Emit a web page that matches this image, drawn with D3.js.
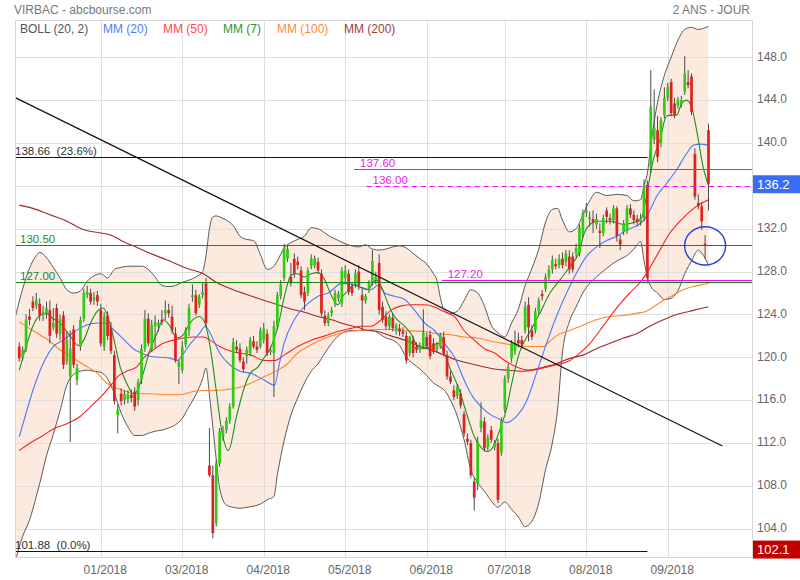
<!DOCTYPE html>
<html><head><meta charset="utf-8">
<script src="https://cdn.jsdelivr.net/npm/d3@7/dist/d3.min.js"></script>
<style>body{margin:0;background:#fff}svg{display:block;font-family:Arial,"Liberation Sans",sans-serif}</style>
</head><body><svg id="c" width="800" height="580"></svg>
<script>
// ---------- DATA ----------
const openP = [121.0,120.0,120.8,123.8,125.2,124.8,125.0,123.9,124.1,124.4,
122.8,124.6,122.2,123.9,119.6,118.2,122.6,117.9,121.0,123.6,
125.8,126.0,125.3,125.8,124.4,121.0,123.9,122.8,120.2,114.6,
116.6,116.0,116.1,116.5,116.8,116.0,117.9,120.8,123.6,120.8,
122.9,122.9,123.5,124.1,124.4,123.8,122.2,119.1,118.8,121.2,
122.5,125.6,125.8,124.9,125.8,126.9,109.9,109.0,104.5,110.1,
112.6,113.2,114.1,115.4,121.0,120.8,119.6,120.1,120.4,121.5,
121.0,121.0,121.6,122.2,120.5,120.4,122.9,125.7,127.4,129.2,
127.5,129.2,128.9,128.1,126.1,126.0,128.5,128.6,128.9,127.8,
123.9,123.2,124.1,125.0,125.5,125.0,127.4,127.8,126.6,126.9,
128.0,125.8,125.3,126.3,127.0,127.2,128.8,124.7,123.8,122.9,
123.7,122.5,122.7,122.4,122.0,120.4,121.6,121.0,120.7,121.0,
121.9,122.1,121.3,120.7,121.0,121.9,120.2,118.2,116.9,116.4,
116.6,114.7,112.4,112.0,108.4,108.2,113.4,114.0,111.6,113.2,
111.6,112.0,111.1,115.1,118.0,119.9,120.6,121.6,121.6,122.5,
124.9,122.5,122.5,124.3,125.9,126.4,127.5,128.2,128.7,128.6,
129.2,128.9,129.4,129.4,129.7,129.7,131.5,133.5,132.9,132.9,
132.4,131.8,131.6,133.7,133.0,132.8,133.9,131.0,131.7,131.8,
133.9,133.3,132.9,132.6,133.0,136.1,137.8,140.3,141.2,140.0,
142.6,144.2,145.7,143.7,143.5,143.6,144.8,145.7,146.2,139.0,
134.4,134.1,130.6,141.2];
const highP = [121.4,121.0,124.0,124.5,125.7,126.0,125.5,124.8,125.2,125.3,
124.6,125.0,124.0,124.3,122.4,122.5,123.0,119.4,123.8,126.4,
126.7,126.4,126.1,126.2,125.0,124.2,124.3,123.3,120.6,115.6,
117.1,116.9,116.9,117.0,117.2,118.0,121.2,124.4,124.1,123.5,
123.9,123.5,124.4,125.3,125.0,124.8,122.8,119.8,121.5,122.8,
125.0,126.8,126.3,125.9,127.0,127.4,113.4,109.9,110.4,113.4,
113.6,114.4,115.7,121.8,121.6,121.3,120.0,121.0,121.9,122.0,
121.5,122.8,123.2,122.6,121.0,123.4,126.1,127.2,130.6,130.5,
128.8,129.7,129.4,128.5,126.6,128.4,129.6,129.5,129.3,128.2,
124.4,124.2,124.7,126.3,126.2,128.4,128.6,128.2,127.0,128.2,
128.6,126.4,125.9,127.2,130.0,128.0,129.6,125.2,124.3,124.0,
124.1,123.2,123.1,122.8,122.4,122.0,122.0,121.4,121.4,124.5,
122.3,122.5,121.8,121.4,122.3,122.4,120.6,118.7,117.4,117.5,
117.0,115.0,112.9,112.3,108.8,112.6,115.8,114.4,112.8,113.6,
112.3,112.4,114.4,118.3,119.4,121.6,122.5,122.3,122.0,125.2,
125.6,123.0,124.6,125.6,126.3,127.8,128.6,129.5,129.2,129.6,
129.8,130.0,130.0,129.8,130.6,132.4,133.8,134.4,133.6,133.7,
133.4,132.5,133.3,134.0,133.4,134.2,134.1,131.4,132.8,134.2,
134.3,133.7,133.3,133.4,136.6,136.5,146.8,145.0,142.5,142.4,
145.2,145.6,146.0,144.2,144.3,144.4,148.1,146.8,146.5,139.5,
135.2,134.5,131.4,141.8];
const lowP = [119.6,119.7,120.5,123.0,124.3,124.5,123.4,123.4,123.6,121.3,
122.5,121.8,121.6,118.9,119.3,112.1,119.0,117.4,120.6,123.3,
125.5,124.9,124.9,124.8,121.0,120.6,121.6,120.3,115.6,112.9,
115.5,115.6,115.7,115.8,115.0,115.5,117.5,120.5,121.0,120.5,
120.9,122.4,123.0,123.5,123.7,122.2,119.5,117.5,118.5,120.9,
122.0,125.2,123.9,124.6,125.5,122.8,108.8,103.1,104.2,109.8,
112.2,112.9,113.8,115.2,120.4,119.5,118.6,119.4,120.1,120.8,
120.4,120.8,121.3,120.1,120.2,116.3,122.6,125.4,127.1,128.9,
126.6,127.4,128.2,125.5,124.4,125.7,128.2,128.3,127.8,123.8,
122.9,122.9,123.8,124.7,125.2,124.7,127.0,125.8,125.7,126.5,
126.3,122.5,125.0,126.0,126.7,126.8,124.0,123.2,122.6,122.6,
122.4,122.1,122.0,121.9,119.4,120.1,120.0,120.4,120.4,120.8,
120.8,119.8,120.3,120.4,120.8,120.1,117.9,117.5,116.0,116.1,
115.2,112.6,111.8,108.7,105.7,107.6,113.0,111.2,111.3,112.0,
111.3,106.4,110.8,114.8,117.6,119.5,120.2,120.9,120.8,122.2,
121.5,121.6,122.2,124.0,125.3,126.1,127.2,127.8,128.2,128.3,
128.3,128.5,127.8,127.9,129.3,129.4,131.2,133.1,132.2,131.6,
132.0,130.2,131.3,132.5,132.4,132.5,130.8,130.0,131.4,131.5,
133.0,132.4,132.2,132.3,132.7,126.9,137.2,139.9,138.2,139.6,
142.3,143.9,142.5,142.3,143.2,143.3,144.5,145.1,142.6,134.7,
133.8,131.9,129.2,133.7];
const closeP = [119.9,120.7,123.5,123.5,124.6,125.4,123.9,124.2,124.6,122.0,
123.2,122.2,123.6,119.3,121.6,120.8,119.3,119.0,123.5,126.0,
126.1,125.2,125.6,125.2,121.3,123.8,122.0,120.6,115.9,115.1,
115.9,116.6,116.5,116.2,115.4,117.7,120.8,123.6,121.3,123.0,
123.3,123.2,123.3,124.4,124.1,122.5,119.7,119.6,121.0,122.5,
124.6,125.8,124.1,125.7,126.1,123.2,109.0,103.6,110.1,113.1,
113.2,114.1,115.4,121.4,120.7,119.7,118.9,120.7,121.6,121.0,
120.7,122.5,122.7,120.4,120.7,122.9,125.8,126.8,130.2,130.1,
126.9,127.8,128.6,125.8,125.2,128.1,129.2,129.2,128.1,124.1,
123.2,123.9,124.4,126.0,125.9,128.1,128.1,126.1,126.0,127.8,
126.7,125.3,125.7,126.9,129.0,127.5,124.4,123.5,122.9,123.8,
122.7,123.0,122.4,122.2,119.7,121.9,120.4,120.7,121.0,122.3,
121.0,120.1,120.5,121.2,122.1,120.4,118.2,117.7,116.3,117.2,
115.5,112.9,112.1,109.0,106.9,112.1,114.1,111.5,112.5,112.3,
112.0,106.7,114.1,118.0,119.1,121.3,121.4,121.3,121.2,124.7,
122.8,121.9,124.3,125.3,125.7,127.5,128.2,129.1,128.5,129.2,
128.6,129.7,128.2,128.2,130.2,132.1,133.5,133.7,133.1,132.6,
132.9,131.6,133.0,133.1,132.8,133.9,131.3,130.5,132.5,133.9,
133.3,132.8,132.6,133.0,136.1,127.4,143.4,141.4,138.7,142.1,
144.2,145.2,142.8,142.6,144.0,144.0,146.5,145.4,142.9,135.0,
134.1,132.7,130.4,136.2];

// Bollinger (20,2): index, upper, lower
const bbIdx = [-1.3,1,3,5,6,8,10,12,14,16,18,20,22,24,26,28,30,32,34,36,38,40,42,44,46,48,50,52,54,55,56,57,58,59,61,63,65,67,69,71,73,75,76,78,80,82,84,86,88,90,92,94,96,98,100,102,104,106,108,110,112,114,116,118,120,122,123,124,125,127,129,131,133,135,137,139,141,143,145,147,149,151,153,155,157,158.5,160,162,164,166,168,170,173,176,179,181,183,184,185,186,188,190,192,194,196,198,200,201.5,203];
const bbUp = [123.6,126.4,128.3,129.5,129.8,129.3,128.4,127.4,126.3,126.0,126.2,127.1,127.6,127.8,127.4,128.2,128.4,128.5,128.5,128.5,128.2,127.5,126.7,126.6,126.7,127.0,127.2,127.5,128.0,129.5,132.0,133.1,133.2,133.1,132.8,132.3,131.3,131.0,130.9,129.6,128.2,128.5,129.0,130.2,130.7,131.0,131.3,132.1,132.0,131.6,131.2,130.9,130.6,130.4,130.3,130.5,130.1,130.0,130.1,130.3,130.4,130.2,129.7,129.2,128.7,127.8,127.2,125.6,124.5,124.1,124.3,125.3,126.3,126.0,124.8,123.0,122.3,121.9,123.2,124.5,126.7,128.3,130.1,132.6,133.8,133.9,132.8,131.7,132.0,133.3,134.6,135.4,135.1,135.2,135.1,134.6,134.7,136.0,137.2,139.8,143.8,146.3,148.0,149.6,150.6,150.8,150.6,150.7,150.9];
const bbLow = [100.8,103.3,104.8,107.0,108.2,110.8,112.8,115.0,117.4,118.4,118.7,118.8,118.7,118.6,118.0,116.6,114.8,113.5,112.7,112.7,112.9,113.1,113.2,113.4,113.7,114.3,115.4,116.5,118.0,119.0,116.5,113.5,110.5,107.8,106.2,106.0,105.9,106.0,106.1,106.3,106.7,107.0,109.0,112.2,114.6,116.2,117.6,118.7,119.4,120.4,121.3,122.0,122.4,122.5,122.5,122.5,122.5,122.2,121.8,121.6,121.1,120.0,119.4,118.9,118.3,117.6,117.4,117.2,117.0,116.0,114.5,112.3,109.5,108.3,107.5,106.6,106.0,106.5,105.8,105.1,104.2,104.7,106.4,109.5,112.0,115.0,120.5,123.3,124.7,126.0,126.9,127.5,128.3,129.0,129.5,130.1,130.8,129.0,127.5,126.6,126.0,125.4,125.5,126.2,127.8,129.0,130.0,129.5,128.6];

// Moving averages: [index, value]
const mm20 = [[0,112.6],[2,114.8],[4,116.9],[7,119.4],[10,121.0],[13,121.6],[15.4,122.2],[19,122.9],[23,123.2],[25,123.2],[28,122.5],[31,121.6],[34,120.7],[36,120.4],[38.5,120.1],[41.5,120.0],[44.5,119.9],[46.5,119.7],[48,120.2],[50.5,121.3],[53,122.2],[54.8,122.9],[56.3,122.2],[59,120.4],[62,119.3],[65,118.7],[68.3,118.5],[72,117.9],[75.2,117.4],[76.6,119.4],[78,121.3],[81,123.5],[85,125.0],[88,125.7],[91,126.0],[95,126.9],[98,126.8],[101,126.5],[103.6,126.3],[105.6,126.7],[107.6,126.0],[110.5,125.7],[113.5,125.4],[116.4,124.4],[119.4,123.2],[122.3,122.5],[125.2,121.3],[128.2,120.0],[131,117.9],[133,116.6],[136,115.4],[139,114.6],[141,114.3],[143.5,113.9],[146.5,114.5],[149.4,115.9],[152.3,118.5],[155.3,121.3],[158.2,123.8],[161.2,126.0],[164,127.8],[167,129.4],[170,130.3],[173,130.9],[176,131.3],[179,131.9],[182,132.3],[184,132.8],[185.7,133.7],[187.7,135.0],[190.6,136.2],[193.6,137.5],[196.5,139.0],[198.5,139.8],[200.5,139.9],[203,139.8]];
const mm50 = [[0,111.3],[3.2,112.0],[7,112.7],[10,113.3],[14,113.8],[18,114.5],[21,115.4],[24,116.3],[27,117.4],[29,118.2],[31.6,118.7],[34.6,119.1],[36.5,119.9],[39.5,120.7],[42.4,121.3],[45.4,121.6],[48.3,121.8],[51.3,121.9],[54.2,121.9],[56.2,121.6],[59,121.0],[63,120.5],[65,120.4],[68.3,120.2],[72.2,119.7],[75.2,119.7],[78,120.2],[82,121.0],[86,121.6],[90,122.0],[93.8,122.4],[97.8,122.7],[100.7,122.9],[103.6,122.9],[106.6,123.5],[109.5,124.4],[112.5,124.8],[115.4,124.9],[119.4,124.9],[122.3,124.7],[124.3,124.4],[126.2,124.1],[128.2,123.8],[131,122.5],[134,121.6],[137,120.8],[140,120.4],[142.5,119.8],[146.5,119.1],[150.4,118.8],[154.3,119.0],[158.2,119.3],[162.2,119.7],[165.1,120.4],[168.1,121.3],[171,122.5],[174,123.8],[177,125.0],[179.8,126.0],[182,126.7],[184.3,127.6],[185.8,128.4],[188.7,130.0],[191,131.3],[194.6,132.7],[197.5,133.6],[200.5,134.3],[203,134.7]];
const mm7 = [[0,118.8],[2,121.0],[4,122.9],[6,123.9],[8,124.1],[10,123.6],[12,123.2],[14,122.4],[15.4,121.8],[17.4,121.1],[19,121.6],[21,123.2],[23,124.3],[24.7,124.6],[25.7,124.1],[27.7,121.9],[29.7,119.1],[31.6,117.6],[33.6,116.6],[34.6,116.8],[36.5,118.5],[38.5,120.7],[40.5,122.2],[42.4,123.5],[44.4,122.9],[46.4,121.8],[48.3,122.1],[50.3,123.2],[53,123.8],[54.7,123.2],[56.2,121.0],[58,116.9],[59.6,113.2],[61.6,111.3],[64,114.5],[66,116.9],[68,118.5],[70.3,119.1],[72.2,120.0],[74.2,121.0],[76.2,122.9],[78.1,125.7],[80.1,127.7],[82,127.8],[84,127.5],[86,127.8],[88,127.9],[90,127.2],[92,125.7],[93.8,124.9],[95.3,125.7],[96.8,126.2],[98.7,126.8],[100.7,126.5],[102.7,126.3],[104.1,126.9],[105.1,127.2],[106.6,126.6],[108.6,125.0],[110.5,123.8],[113.5,122.9],[115.4,122.2],[117.4,121.0],[119.4,120.8],[121.3,121.0],[123.3,121.3],[124.8,120.7],[126.7,119.1],[129.2,117.3],[132,114.5],[134,112.6],[136,111.6],[138,111.2],[140,111.9],[141.6,113.3],[143.6,115.3],[145,117.5],[147.4,120.5],[150.4,122.4],[153.3,124.1],[156.3,126.0],[159.2,127.2],[162.2,128.5],[165.1,130.0],[166.1,131.3],[168.1,132.4],[170,132.7],[174,132.7],[178,132.4],[181.8,132.7],[183.3,133.0],[184.7,135.0],[186.7,138.4],[188.7,140.3],[190.6,142.5],[192.1,142.6],[193.6,142.6],[195.1,143.7],[196.5,144.0],[198,143.4],[199.5,141.2],[201.4,137.8],[203,136.0]];
const mm100 = [[0,123.3],[3,122.7],[6,122.1],[9,121.5],[12,120.7],[15,120.1],[19,119.3],[23,118.5],[25.7,117.6],[28.7,117.1],[31.6,116.8],[33.6,116.6],[38.5,116.6],[43.4,116.5],[47.3,116.5],[51.3,116.8],[54.2,116.9],[57,116.9],[61,117.0],[65,117.2],[68.3,117.6],[72.2,118.2],[76.2,118.8],[79,119.4],[82,120.4],[85,121.0],[88,121.5],[91,121.9],[94,122.2],[97,122.4],[100,122.5],[105.6,122.6],[109.5,122.6],[113.5,122.5],[119.4,122.4],[123.3,122.2],[127.2,122.1],[131,121.9],[135,121.8],[139,121.5],[142.5,121.3],[146.5,121.1],[150.4,121.0],[154.3,121.0],[156.3,121.5],[158.2,122.0],[162.2,122.5],[166,123.0],[170,123.5],[174,123.8],[178,123.9],[181.8,124.1],[184.7,124.3],[186.7,124.7],[189.7,125.3],[192.6,125.8],[195.5,126.3],[198.5,126.6],[201.4,126.8],[203,126.9]];
const mm200 = [[0,134.2],[4,133.9],[9,133.3],[14,132.7],[19,131.9],[24,131.6],[27,131.4],[30.6,130.8],[33.6,130.4],[38.5,129.7],[43.4,129.1],[49.3,128.3],[54.2,127.8],[58,127.0],[63,126.3],[68.5,125.7],[72.2,125.3],[76.2,124.9],[80,124.5],[84,124.2],[88,123.8],[92,123.5],[95.8,123.1],[99.7,122.8],[102.7,122.5],[105.6,122.4],[109.5,122.0],[113.5,121.6],[117.4,121.1],[121.3,120.7],[125.2,120.2],[129.2,119.7],[133,119.4],[137,119.1],[140,118.9],[143.5,118.8],[148.4,118.7],[153.3,119.0],[158.2,119.4],[162.2,119.9],[166,120.2],[170,120.8],[174,121.3],[178,121.8],[181.8,122.2],[185.7,122.9],[189.7,123.5],[193.6,124.0],[197.5,124.3],[201.4,124.6],[203,124.7]];

// axis ticks
const yTickVals = [104,108,112,116,120,124,128,132,140,144,148];
const tickIdx = [24,48,72,96,120,143,167,191];
const monthLabels = ["01/2018","03/2018","04/2018","05/2018","06/2018","07/2018","08/2018","09/2018"];

// annotations
const fiboLevels = [{v:138.66, label:"138.66\u00a0 (23.6%)", end:185},{v:101.88, label:"101.88\u00a0 (0.0%)", end:185}];
const greenLevels = [{v:130.50, label:"130.50"},{v:127.00, label:"127.00"}];
const magentaLevels = [{v:137.60, label:"137.60", start:98.6, dash:false},{v:136.00, label:"136.00", start:102.3, dash:true},{v:127.20, label:"127.20", start:124.4, dash:false}];
const trend = [{i:-1.56, v:144.29},{i:207.1, v:111.72}];
const circleMark = {i:202, v:130.4};
const lastPrice = 136.2, lowPrice = 102.1;

const legendItems = [
  {t:"BOLL (20, 2)", c:"#555555", x:20},
  {t:"MM (20)", c:"#4d7cff", x:103},
  {t:"MM (50)", c:"#ff4a4a", x:163},
  {t:"MM (7)", c:"#2e962e", x:223},
  {t:"MM (100)", c:"#ff8a3a", x:277},
  {t:"MM (200)", c:"#a33a3a", x:344}
];

// ---------- CHART ----------
const svg = d3.select("#c");
const P = {l:15, t:20, r:752, b:557};
const x = d3.scaleLinear().domain([0,203]).range([19.3,708.5]);
const y = d3.scaleLinear().domain([104,148]).range([528.7,57.3]);

svg.append("defs").append("clipPath").attr("id","clip")
  .append("rect").attr("x",P.l).attr("y",P.t).attr("width",P.r-P.l).attr("height",P.b-P.t);

svg.append("text").attr("x",14).attr("y",14).attr("font-size",12).attr("fill","#777").text("VIRBAC - abcbourse.com");
svg.append("text").attr("x",750).attr("y",14).attr("font-size",12).attr("fill","#777").attr("text-anchor","end").text("2 ANS - JOUR");

const g = svg.append("g").attr("clip-path","url(#clip)");

// Bollinger fill
const bb = bbIdx.map((d,k)=>({i:d,u:bbUp[k],l:bbLow[k]}));
g.append("path").datum(bb)
  .attr("d", d3.area().x(d=>x(d.i)).y0(d=>y(d.l)).y1(d=>y(d.u)).curve(d3.curveMonotoneX))
  .attr("fill","#fdeade");

// grid
g.selectAll("line.hg").data(d3.range(104,149,4)).join("line").attr("class","hg")
  .attr("x1",P.l).attr("x2",P.r).attr("y1",d=>Math.round(y(d))+0.5).attr("y2",d=>Math.round(y(d))+0.5)
  .attr("stroke","#dedede").attr("stroke-width",1);
g.selectAll("line.vg").data(tickIdx).join("line").attr("class","vg")
  .attr("y1",P.t).attr("y2",P.b).attr("x1",d=>Math.round(x(d))+0.5).attr("x2",d=>Math.round(x(d))+0.5)
  .attr("stroke","#dedede").attr("stroke-width",1);

// Bollinger lines
const lineIdx = (key)=>d3.line().x(d=>x(d.i)).y(d=>y(d[key])).curve(d3.curveMonotoneX);
g.append("path").datum(bb).attr("d",lineIdx("u")).attr("fill","none").attr("stroke","#5a5a5a").attr("stroke-width",1);
g.append("path").datum(bb).attr("d",lineIdx("l")).attr("fill","none").attr("stroke","#5a5a5a").attr("stroke-width",1);

// moving averages
const maLine = d3.line().x(d=>x(d[0])).y(d=>y(d[1])).curve(d3.curveMonotoneX);
[[mm200,"#9e2a2a"],[mm100,"#ff8628"],[mm50,"#ff2020"],[mm20,"#4878ff"],[mm7,"#1f8f1f"]].forEach(([data,col])=>{
  g.append("path").datum(data).attr("d",maLine).attr("fill","none").attr("stroke",col).attr("stroke-width",1.1);
});

// candles
const candles = openP.map((o,i)=>({i,o,h:highP[i],l:lowP[i],c:closeP[i]}));
const cg = g.append("g");
cg.selectAll("line.wick").data(candles).join("line").attr("class","wick")
  .attr("x1",d=>x(d.i)).attr("x2",d=>x(d.i)).attr("y1",d=>y(d.h)).attr("y2",d=>y(d.l))
  .attr("stroke","#4a4a4a").attr("stroke-width",1);
const bw = 2.7;
cg.selectAll("rect.body").data(candles).join("rect").attr("class","body")
  .attr("x",d=>x(d.i)-bw/2).attr("width",bw)
  .attr("y",d=>y(Math.max(d.o,d.c)))
  .attr("height",d=>Math.max(1,Math.abs(y(d.o)-y(d.c))))
  .attr("fill",d=>d.c>=d.o?"#2ecc12":"#e02020");

// horizontal levels
greenLevels.forEach(L=>{
  const yy=Math.round(y(L.v))+0.5;
  g.append("line").attr("x1",P.l).attr("x2",P.r).attr("y1",yy).attr("y2",yy).attr("stroke","#138a13").attr("stroke-width",1.2);
  g.append("text").attr("x",20).attr("y",yy-3).attr("font-size",11.5).attr("fill","#1f8a1f").text(L.label);
});
magentaLevels.forEach(L=>{
  const yy=Math.round(y(L.v))+0.5;
  g.append("line").attr("x1",x(L.start)).attr("x2",P.r).attr("y1",yy).attr("y2",yy).attr("stroke","#ff00ff").attr("stroke-width",1.2)
    .attr("stroke-dasharray",L.dash?"5,4":null);
  g.append("text").attr("x",x(L.start)+6).attr("y",yy-3).attr("font-size",11.5).attr("fill","#ee22ee").text(L.label);
});
fiboLevels.forEach(L=>{
  const yy=Math.round(y(L.v))+0.5;
  g.append("line").attr("x1",P.l).attr("x2",x(L.end)).attr("y1",yy).attr("y2",yy).attr("stroke","#111").attr("stroke-width",1.2);
  g.append("text").attr("x",15).attr("y",yy-3).attr("font-size",11.5).attr("fill","#333").text(L.label);
});

// trendline
g.append("line").attr("x1",x(trend[0].i)).attr("y1",y(trend[0].v)).attr("x2",x(trend[1].i)).attr("y2",y(trend[1].v))
  .attr("stroke","#111").attr("stroke-width",1.2);

// circle
g.append("ellipse").attr("cx",x(circleMark.i)).attr("cy",y(circleMark.v)).attr("rx",20.5).attr("ry",19.2)
  .attr("fill","none").attr("stroke","#2b3ee0").attr("stroke-width",1.5);

// border
svg.append("rect").attr("x",P.l+0.5).attr("y",P.t+0.5).attr("width",P.r-P.l).attr("height",P.b-P.t)
  .attr("fill","none").attr("stroke","#d6d6d6");

// legend
legendItems.forEach(it=>{
  svg.append("text").attr("x",it.x).attr("y",33).attr("font-size",12).attr("fill",it.c).text(it.t);
});

// axes
const ya = svg.append("g").attr("transform",`translate(${P.r},-1)`)
  .call(d3.axisRight(y).tickValues(yTickVals).tickFormat(d3.format(".1f")).tickSize(0).tickPadding(5));
ya.select(".domain").remove();
ya.selectAll("text").attr("font-size",12).attr("fill","#666").attr("font-family",'Arial,"Liberation Sans",sans-serif');

const xa = svg.append("g").attr("transform",`translate(4,${P.b})`)
  .call(d3.axisBottom(x).tickValues(tickIdx).tickFormat((d,k)=>monthLabels[k]).tickSize(0).tickPadding(8));
xa.select(".domain").remove();
xa.selectAll("text").attr("font-size",12).attr("fill","#666").attr("font-family",'Arial,"Liberation Sans",sans-serif');

// price boxes
[[lastPrice,"#3a6cf6"],[lowPrice,"#c20000"]].forEach(([v,col])=>{
  const yy=y(v);
  svg.append("rect").attr("x",753).attr("y",yy-8.5).attr("width",47).attr("height",18).attr("fill",col);
  svg.append("text").attr("x",757).attr("y",yy+5).attr("font-size",13).attr("fill","#fff").text(d3.format(".1f")(v));
});
</script></body></html>
